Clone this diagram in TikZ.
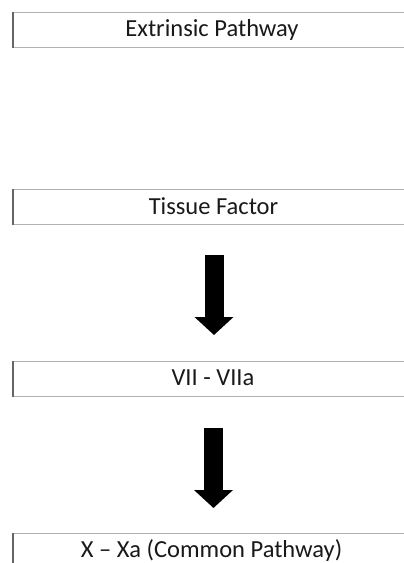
\documentclass[tikz,border=0pt]{standalone}
\usepackage{fontspec}
\setmainfont{Carlito}
\usetikzlibrary{arrows.meta}
\begin{document}
\begin{tikzpicture}[x=1pt,y=-1pt,
  box/.style={draw=black!30,line width=1pt,minimum width=400pt,minimum height=35pt,inner sep=0pt,anchor=north west},
  lbl/.style={font=\fontsize{24.5}{28}\selectfont,text=black!90,inner sep=0pt},
  bigarrow/.style={line width=19pt,-{Triangle[width=38pt,length=18pt]},black}]
\fill[white] (0,0) rectangle (404,563);
\useasboundingbox (0,0) rectangle (404,563);
\node[box] (b1) at (13,12) {};
\node[box] (b2) at (13,189) {};
\node[box] (b3) at (13,361) {};
\node[box] (b4) at (13,533) {};
\foreach \b in {b1,b2,b3,b4}{\draw[black!60,line width=1.2pt] (\b.north west) -- (\b.south west);}
\node[lbl] (t1) at (212,29.5) {Extrinsic Pathway};
\node[lbl] (t2) at (213.5,206.5) {Tissue Factor};
\node[lbl] (t3) at (213,378) {VII - VIIa};
\node[lbl] (t4) at (211.5,550.5) {X – Xa (Common Pathway)};
\coordinate (a1s) at (214,255);
\coordinate (a1e) at (214,335);
\coordinate (a2s) at (213.5,428);
\coordinate (a2e) at (213.5,508);
\draw[bigarrow] (a1s) -- (a1e);
\draw[bigarrow] (a2s) -- (a2e);
\end{tikzpicture}
\end{document}
